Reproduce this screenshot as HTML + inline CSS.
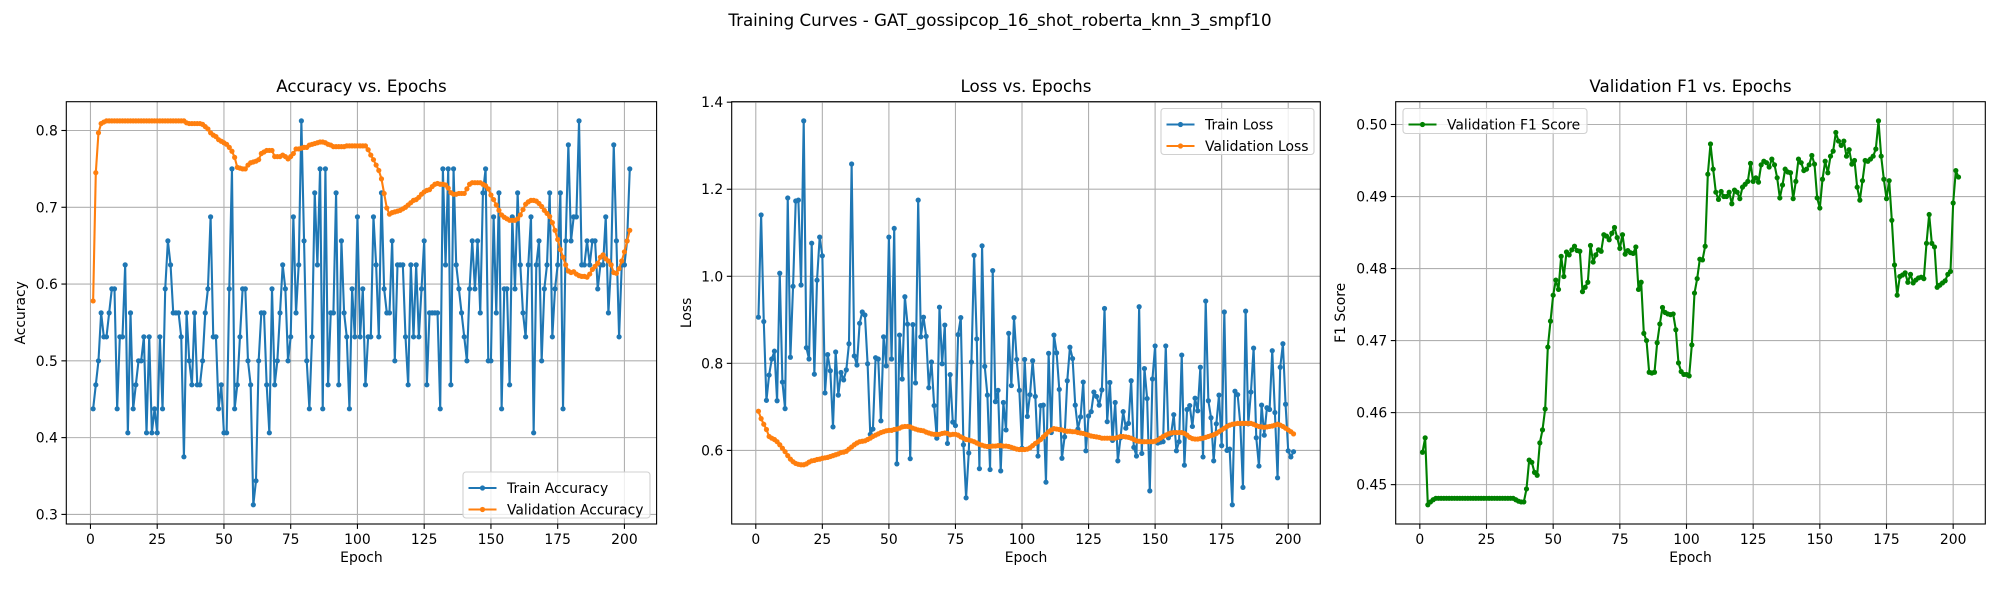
<!DOCTYPE html>
<html><head><meta charset="utf-8">
<style>
html,body{margin:0;padding:0;background:#fff;}
svg{display:block;font-family:"DejaVu Sans","Liberation Sans",sans-serif;}
</style></head>
<body>
<svg id="fig" width="2000" height="600" viewBox="0 0 2000 600">
<rect width="2000" height="600" fill="#fff"/>
<text x="1000" y="26" text-anchor="middle" font-size="16.7" fill="#000">Training Curves - GAT_gossipcop_16_shot_roberta_knn_3_smpf10</text>
</svg>
<script>
const epochs = Array.from({length:202},(_, i)=>i+1);
const trainAcc = [0.4375,0.46875,0.5,0.5625,0.53125,0.53125,0.5625,0.59375,0.59375,0.4375,0.53125,0.53125,0.625,0.40625,0.5625,0.4375,0.46875,0.5,0.5,0.53125,0.40625,0.53125,0.40625,0.4375,0.40625,0.53125,0.4375,0.59375,0.65625,0.625,0.5625,0.5625,0.5625,0.53125,0.375,0.5625,0.5,0.46875,0.5625,0.46875,0.46875,0.5,0.5625,0.59375,0.6875,0.53125,0.53125,0.4375,0.46875,0.40625,0.40625,0.59375,0.75,0.4375,0.46875,0.53125,0.59375,0.59375,0.5,0.46875,0.3125,0.34375,0.5,0.5625,0.5625,0.46875,0.40625,0.59375,0.46875,0.5,0.5625,0.625,0.59375,0.5,0.53125,0.6875,0.5625,0.625,0.8125,0.65625,0.5,0.4375,0.53125,0.71875,0.625,0.75,0.4375,0.75,0.46875,0.5625,0.5625,0.71875,0.46875,0.65625,0.5625,0.53125,0.4375,0.59375,0.53125,0.6875,0.53125,0.59375,0.46875,0.53125,0.53125,0.6875,0.625,0.53125,0.71875,0.59375,0.5625,0.5625,0.65625,0.5,0.625,0.625,0.625,0.53125,0.46875,0.625,0.53125,0.625,0.53125,0.59375,0.65625,0.46875,0.5625,0.5625,0.5625,0.5625,0.4375,0.75,0.625,0.75,0.46875,0.75,0.625,0.59375,0.5625,0.53125,0.5,0.59375,0.65625,0.59375,0.65625,0.5625,0.71875,0.75,0.5,0.5,0.6875,0.5625,0.71875,0.4375,0.59375,0.59375,0.46875,0.6875,0.59375,0.71875,0.625,0.5625,0.53125,0.625,0.6875,0.40625,0.625,0.65625,0.5,0.59375,0.625,0.71875,0.53125,0.59375,0.625,0.71875,0.4375,0.65625,0.78125,0.65625,0.6875,0.6875,0.8125,0.625,0.625,0.65625,0.625,0.65625,0.65625,0.59375,0.625,0.625,0.6875,0.5625,0.625,0.78125,0.65625,0.53125,0.625,0.625,0.65625,0.75];
const valAcc = [0.578,0.745,0.797,0.809,0.811,0.8125,0.8125,0.8125,0.8125,0.8125,0.8125,0.8125,0.8125,0.8125,0.8125,0.8125,0.8125,0.8125,0.8125,0.8125,0.8125,0.8125,0.8125,0.8125,0.8125,0.8125,0.8125,0.8125,0.8125,0.8125,0.8125,0.8125,0.8125,0.8125,0.8125,0.81,0.809,0.809,0.809,0.809,0.809,0.808,0.805,0.802,0.797,0.794,0.792,0.788,0.786,0.784,0.782,0.778,0.773,0.765,0.752,0.751,0.75,0.75,0.755,0.758,0.759,0.76,0.762,0.77,0.772,0.774,0.774,0.774,0.766,0.766,0.766,0.768,0.766,0.763,0.766,0.77,0.776,0.776,0.777,0.778,0.778,0.781,0.782,0.783,0.784,0.785,0.785,0.784,0.782,0.781,0.779,0.779,0.779,0.779,0.779,0.78,0.78,0.78,0.78,0.78,0.78,0.78,0.78,0.775,0.768,0.762,0.755,0.748,0.737,0.718,0.699,0.691,0.693,0.694,0.695,0.696,0.698,0.7,0.703,0.706,0.709,0.71,0.713,0.717,0.72,0.722,0.723,0.727,0.73,0.731,0.73,0.73,0.729,0.725,0.719,0.717,0.717,0.718,0.718,0.718,0.724,0.73,0.732,0.732,0.732,0.732,0.73,0.728,0.724,0.716,0.71,0.703,0.696,0.69,0.687,0.685,0.683,0.683,0.683,0.685,0.69,0.697,0.704,0.707,0.709,0.709,0.708,0.705,0.701,0.696,0.692,0.688,0.68,0.67,0.658,0.645,0.635,0.625,0.617,0.615,0.616,0.613,0.611,0.61,0.61,0.609,0.613,0.619,0.623,0.627,0.635,0.638,0.633,0.63,0.625,0.615,0.614,0.62,0.63,0.642,0.656,0.67];
const trainLoss = [0.906,1.141,0.896,0.715,0.773,0.81,0.828,0.714,1.007,0.757,0.696,1.18,0.814,0.977,1.173,1.175,0.98,1.357,0.836,0.81,1.076,0.775,0.991,1.09,1.047,0.732,0.82,0.783,0.654,0.826,0.727,0.779,0.762,0.785,0.845,1.258,0.817,0.796,0.892,0.918,0.911,0.799,0.637,0.649,0.813,0.81,0.668,0.861,0.794,1.09,0.81,1.11,0.569,0.865,0.764,0.953,0.89,0.581,0.889,0.755,1.175,0.861,0.906,0.862,0.744,0.803,0.703,0.628,0.929,0.799,0.888,0.616,0.774,0.665,0.657,0.866,0.905,0.613,0.491,0.594,0.803,1.048,0.856,0.558,1.07,0.793,0.727,0.556,1.013,0.712,0.738,0.553,0.71,0.647,0.869,0.749,0.905,0.809,0.738,0.605,0.809,0.678,0.728,0.806,0.724,0.587,0.703,0.704,0.527,0.823,0.641,0.865,0.824,0.74,0.582,0.631,0.76,0.837,0.811,0.704,0.649,0.677,0.757,0.599,0.679,0.689,0.734,0.724,0.704,0.739,0.926,0.666,0.756,0.623,0.71,0.576,0.629,0.689,0.651,0.662,0.76,0.607,0.587,0.93,0.593,0.788,0.719,0.507,0.764,0.84,0.617,0.619,0.62,0.84,0.629,0.637,0.682,0.599,0.62,0.819,0.566,0.694,0.703,0.655,0.72,0.691,0.791,0.585,0.943,0.714,0.675,0.576,0.661,0.727,0.611,0.918,0.6,0.603,0.475,0.736,0.728,0.661,0.515,0.92,0.661,0.734,0.835,0.629,0.564,0.704,0.635,0.698,0.694,0.829,0.687,0.537,0.791,0.845,0.706,0.599,0.585,0.597];
const valLoss = [0.69,0.673,0.66,0.648,0.632,0.628,0.625,0.62,0.613,0.605,0.597,0.588,0.58,0.574,0.57,0.568,0.567,0.567,0.569,0.573,0.576,0.577,0.579,0.58,0.582,0.583,0.584,0.586,0.588,0.59,0.592,0.595,0.596,0.598,0.603,0.608,0.613,0.617,0.62,0.621,0.622,0.625,0.628,0.632,0.635,0.638,0.641,0.643,0.645,0.646,0.646,0.648,0.649,0.651,0.654,0.655,0.655,0.654,0.651,0.649,0.647,0.646,0.645,0.642,0.64,0.638,0.637,0.637,0.637,0.639,0.64,0.639,0.636,0.637,0.637,0.635,0.631,0.628,0.625,0.624,0.622,0.62,0.617,0.614,0.612,0.61,0.609,0.609,0.61,0.61,0.611,0.611,0.61,0.61,0.609,0.607,0.605,0.603,0.602,0.602,0.602,0.603,0.606,0.611,0.616,0.62,0.625,0.631,0.637,0.643,0.647,0.65,0.649,0.648,0.647,0.645,0.644,0.644,0.643,0.643,0.641,0.64,0.639,0.637,0.635,0.633,0.632,0.631,0.63,0.628,0.628,0.628,0.628,0.628,0.628,0.63,0.632,0.632,0.631,0.63,0.628,0.625,0.622,0.621,0.62,0.62,0.62,0.62,0.62,0.621,0.624,0.628,0.632,0.635,0.638,0.64,0.641,0.641,0.641,0.641,0.639,0.635,0.63,0.627,0.626,0.626,0.627,0.628,0.63,0.632,0.634,0.636,0.639,0.643,0.647,0.651,0.655,0.658,0.66,0.661,0.662,0.662,0.662,0.662,0.662,0.662,0.66,0.657,0.655,0.654,0.653,0.654,0.655,0.656,0.658,0.66,0.658,0.655,0.651,0.647,0.643,0.638];
const valF1 = [0.4545,0.4565,0.4472,0.4476,0.4479,0.4481,0.4481,0.4481,0.4481,0.4481,0.4481,0.4481,0.4481,0.4481,0.4481,0.4481,0.4481,0.4481,0.4481,0.4481,0.4481,0.4481,0.4481,0.4481,0.4481,0.4481,0.4481,0.4481,0.4481,0.4481,0.4481,0.4481,0.4481,0.4481,0.4481,0.4479,0.4477,0.4476,0.4476,0.4494,0.4534,0.4531,0.4517,0.4513,0.4558,0.4576,0.4605,0.4691,0.4727,0.4763,0.4784,0.4771,0.4817,0.4789,0.4823,0.4819,0.4826,0.4831,0.4825,0.4824,0.4768,0.4774,0.4781,0.4832,0.4809,0.4819,0.4826,0.4824,0.4847,0.4845,0.484,0.4849,0.4857,0.4843,0.4828,0.4847,0.482,0.4825,0.4822,0.4821,0.483,0.4771,0.4781,0.471,0.47,0.4656,0.4655,0.4656,0.4697,0.4723,0.4746,0.4739,0.4737,0.4736,0.4737,0.4715,0.4669,0.4657,0.4653,0.4653,0.4651,0.4694,0.4766,0.4786,0.4813,0.4812,0.4831,0.4931,0.4973,0.4938,0.4906,0.4896,0.4907,0.49,0.49,0.4906,0.489,0.4909,0.4906,0.4897,0.4913,0.4917,0.4921,0.4946,0.4921,0.4926,0.492,0.4944,0.4949,0.4947,0.4941,0.4952,0.4944,0.4926,0.4898,0.4916,0.4938,0.4934,0.4933,0.4897,0.4921,0.4952,0.4947,0.4936,0.4938,0.4944,0.4957,0.4945,0.4898,0.4884,0.4924,0.4949,0.4933,0.4956,0.4963,0.4989,0.4977,0.4971,0.4977,0.4956,0.4965,0.4945,0.495,0.4913,0.4895,0.4922,0.495,0.4949,0.4952,0.4956,0.4966,0.5005,0.4956,0.4924,0.4897,0.4922,0.4867,0.4805,0.4763,0.4789,0.4791,0.4794,0.4781,0.4792,0.478,0.4784,0.4787,0.4788,0.4786,0.4835,0.4875,0.4835,0.483,0.4774,0.4777,0.478,0.4783,0.4792,0.4796,0.4891,0.4936,0.4927];
const xTicks = [0,25,50,75,100,125,150,175,200];
const accTicks = [0.3,0.4,0.5,0.6,0.7,0.8];
const lossTicks = [0.6,0.8,1.0,1.2,1.4];
const f1Ticks = [0.45,0.46,0.47,0.48,0.49,0.50];

const NS='http://www.w3.org/2000/svg';
const svg=document.getElementById('fig');
function mk(tag,attrs,parent){const e=document.createElementNS(NS,tag);for(const k in attrs)e.setAttribute(k,attrs[k]);(parent||svg).appendChild(e);return e;}

function drawPanel(cfg){
  const g=mk('g',{});
  
  
  const L=cfg.left,R=cfg.right,T=101.7,B=524;
  const xmin=Math.min(...epochs),xmax=Math.max(...epochs),xm=(xmax-xmin)*0.05;
  const x0=xmin-xm,x1=xmax+xm;
  let all=[];cfg.series.forEach(s=>all=all.concat(s.data));
  const ymin=Math.min(...all),ymax=Math.max(...all),ym=(ymax-ymin)*0.05;
  const y0=ymin-ym,y1=ymax+ym;
  const sx=v=>L+(v-x0)/(x1-x0)*(R-L);
  const sy=v=>B-(v-y0)/(y1-y0)*(B-T);
  xTicks.forEach(t=>{
    if(t<x0||t>x1)return;
    const X=sx(t);
    const gl=mk('line',{x1:X,x2:X,y1:T,y2:B,stroke:'#b0b0b0','stroke-width':1.1},g);
    
    
    mk('line',{x1:X,x2:X,y1:B,y2:B+4.9,stroke:'#000','stroke-width':1.1},g);
    const tx=mk('text',{x:X,y:B+20,'text-anchor':'middle','font-size':13.9},g);
    tx.textContent=String(t);
    
    
  });
  cfg.yTicks.forEach(t=>{
    if(t<y0-1e-9||t>y1+1e-9)return;
    const Y=sy(t);
    const gl=mk('line',{x1:L,x2:R,y1:Y,y2:Y,stroke:'#b0b0b0','stroke-width':1.1},g);
    
    
    mk('line',{x1:L-4.9,x2:L,y1:Y,y2:Y,stroke:'#000','stroke-width':1.1},g);
    const tx=mk('text',{x:L-8.5,y:Y+5,'text-anchor':'end','font-size':13.9},g);
    tx.textContent=t.toFixed(cfg.dec);
    
    
  });
  const clipId='clip-'+cfg.name;
  const cp=mk('clipPath',{id:clipId},g);mk('rect',{x:L,y:T,width:R-L,height:B-T},cp);
  cfg.series.forEach(s=>{
    const sg=mk('g',{'clip-path':'url(#'+clipId+')'},g);
    
    
    const pts=s.data.map((v,i)=>sx(epochs[i]).toFixed(2)+','+sy(v).toFixed(2)).join(' ');
    const pl=mk('polyline',{points:pts,fill:'none',stroke:s.color,'stroke-width':2.1,'stroke-linejoin':'round'},sg);
    
    
    s.data.forEach((v,i)=>{
      const c=mk('circle',{cx:sx(epochs[i]),cy:sy(v),r:2.6,fill:s.color},sg);
      
      
    });
  });
  const fr=mk('rect',{x:L,y:T,width:R-L,height:B-T,fill:'none',stroke:'#000','stroke-width':1.1},g);
  
  
  const ti=mk('text',{x:(L+R)/2,y:92,'text-anchor':'middle','font-size':16.7},g);
  ti.textContent=cfg.title;
  
  
  const xl=mk('text',{x:(L+R)/2,y:562,'text-anchor':'middle','font-size':13.9},g);
  xl.textContent='Epoch';
  
  
  const yc=(T+B)/2;
  const yl=mk('text',{x:cfg.ylabX,y:yc,'text-anchor':'middle','font-size':13.9,transform:'rotate(-90 '+cfg.ylabX+' '+yc+')'},g);
  yl.textContent=cfg.ylabel;
  
  
  const lg=cfg.legend;
  const lgG=mk('g',{},g);
  
  
  mk('rect',{x:lg.x,y:lg.y,width:lg.w,height:lg.h,rx:3,fill:'#fff','fill-opacity':0.8,stroke:'#d0d0d0','stroke-width':1.1},lgG);
  cfg.series.forEach((s,i)=>{
    const ry=lg.y+16+i*21.5;
    const eg=mk('g',{},lgG);
    
    
    mk('line',{x1:lg.x+5.5,x2:lg.x+33.5,y1:ry,y2:ry,stroke:s.color,'stroke-width':2.1},eg);
    mk('circle',{cx:lg.x+19.5,cy:ry,r:2.6,fill:s.color},eg);
    const t=mk('text',{x:lg.x+44,y:ry+5,'font-size':13.9},eg);
    t.textContent=s.label;
  });
}

drawPanel({name:'accuracy-panel',left:66.3,right:656.6,title:'Accuracy vs. Epochs',ylabel:'Accuracy',ylabX:25,yTicks:accTicks,dec:1,
  series:[{name:'train-accuracy',label:'Train Accuracy',data:trainAcc,color:'#1f77b4'},{name:'validation-accuracy',label:'Validation Accuracy',data:valAcc,color:'#ff7f0e'}],
  legend:{x:463,y:472,w:187,h:46}});
drawPanel({name:'loss-panel',left:731.7,right:1320.3,title:'Loss vs. Epochs',ylabel:'Loss',ylabX:691,yTicks:lossTicks,dec:1,
  series:[{name:'train-loss',label:'Train Loss',data:trainLoss,color:'#1f77b4'},{name:'validation-loss',label:'Validation Loss',data:valLoss,color:'#ff7f0e'}],
  legend:{x:1161,y:108.5,w:153,h:46}});
drawPanel({name:'f1-panel',left:1395.7,right:1985.3,title:'Validation F1 vs. Epochs',ylabel:'F1 Score',ylabX:1345,yTicks:f1Ticks,dec:2,
  series:[{name:'validation-f1',label:'Validation F1 Score',data:valF1,color:'#008000'}],
  legend:{x:1403,y:108.5,w:184,h:25}});
</script>
</body></html>
